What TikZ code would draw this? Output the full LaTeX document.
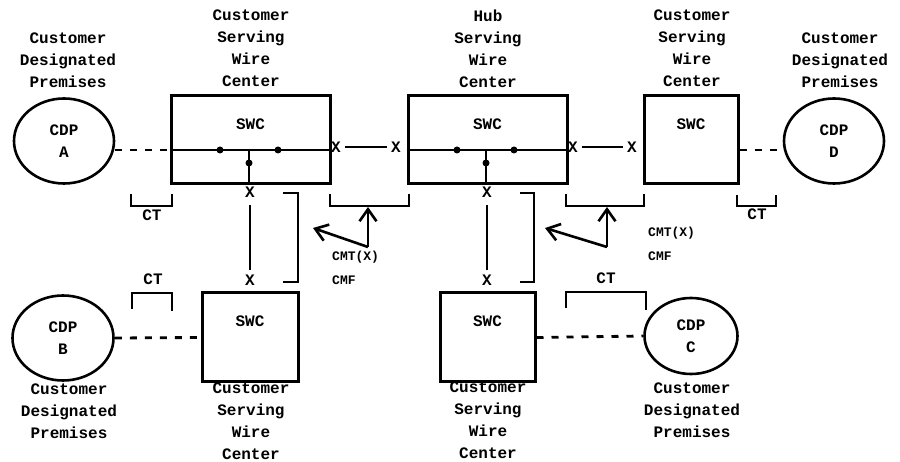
\documentclass[tikz,border=0pt]{standalone}
\usepackage{fontspec}
\setmonofont{Liberation Mono}
\usetikzlibrary{positioning, shapes.geometric, arrows.meta}
\newcommand\capfont{\ttfamily\bfseries\fontsize{16}{22}\selectfont}
\newcommand\notefont{\ttfamily\bfseries\fontsize{13}{23}\selectfont}

\begin{document}
\begin{tikzpicture}[x=1pt, y=-1pt,
  cdp/.style={draw, ellipse, line width=2.6pt, align=center, font=\capfont, inner sep=0pt},
  swc/.style={draw, line width=3pt, inner sep=0pt, label={[font=\capfont, anchor=center, yshift=-30pt]north:SWC}},
  lbl/.style={align=center, font=\capfont, inner sep=0pt},
  note/.style={anchor=west, font=\notefont, inner sep=0pt},
  xmark/.style={font=\capfont, inner sep=4pt},
  wire/.style={line width=2.4pt},
  dotline/.style={line width=2.8pt, dash pattern=on 7pt off 8pt},
  brk/.style={line width=2.6pt},
  dot/.style={circle, fill, inner sep=0pt, minimum size=7pt},
  arr/.style={-{Straight Barb[length=12pt, width=17pt]}, line width=2.6pt}
]
  \useasboundingbox (0,0) rectangle (900,462);

  \node[cdp, minimum width=100pt, minimum height=85pt] (cdpA) at (64, 141) {CDP \\ A};
  \node[cdp, minimum width=100pt, minimum height=85pt] (cdpD) at (834, 141) {CDP \\ D};
  \node[cdp, minimum width=101pt, minimum height=85pt] (cdpB) at (63, 338) {CDP \\ B};
  \node[cdp, minimum width=93pt, minimum height=76pt] (cdpC) at (691, 336) {CDP \\ C};

  \node[swc, minimum width=159pt, minimum height=88pt] (swcA) at (250.5, 140) {};
  \node[swc, minimum width=159pt, minimum height=88pt] (hub) at (487.5, 140) {};
  \node[swc, minimum width=94pt, minimum height=88pt] (swcD) at (691, 140) {};
  \node[swc, minimum width=96pt, minimum height=89pt] (swcB) at (250, 337.5) {};
  \node[swc, minimum width=95pt, minimum height=89pt] (swcC) at (487.5, 337.5) {};

  \node[lbl] (lblA) at (68, 60) {Customer \\ Designated \\ Premises};
  \node[lbl] (lblswcA) at (251, 48.5) {Customer \\ Serving \\ Wire \\ Center};
  \node[lbl] (lblhub) at (488, 48.5) {Hub \\ Serving \\ Wire \\ Center};
  \node[lbl] (lblswcD) at (692, 48.5) {Customer \\ Serving \\ Wire \\ Center};
  \node[lbl] (lblD) at (840, 60) {Customer \\ Designated \\ Premises};
  \node[lbl] (lblB) at (69, 411) {Customer \\ Designated \\ Premises};
  \node[lbl] (lblswcB) at (251, 421) {Customer \\ Serving \\ Wire \\ Center};
  \node[lbl] (lblswcC) at (488, 420) {Customer \\ Serving \\ Wire \\ Center};
  \node[lbl] (lblC) at (692, 410) {Customer \\ Designated \\ Premises};

  \coordinate (busA) at (249, 150);
  \coordinate (busH) at (486, 150);
  \draw[wire] (swcA.west |- busA) -- (swcA.east |- busA);
  \draw[wire] (busA) -- (swcA.south -| busA);
  \draw[wire] (hub.west |- busH) -- (hub.east |- busH);
  \draw[wire] (busH) -- (hub.south -| busH);
  \node[dot] (dA1) at (220, 150) {};
  \node[dot] (dA2) at (278, 150) {};
  \node[dot] (dA3) at (249, 163) {};
  \node[dot] (dH1) at (457, 150) {};
  \node[dot] (dH2) at (514, 150) {};
  \node[dot] (dH3) at (486, 163) {};

  \node[xmark] (xA) at (336, 147) {X};
  \node[xmark] (xH1) at (396, 147) {X};
  \node[xmark] (xH2) at (573, 147) {X};
  \node[xmark] (xD) at (632, 147) {X};
  \draw[wire] (xA) -- (xH1);
  \draw[wire] (xH2) -- (xD);

  \node[xmark] (xA2) at (250, 192) {X};
  \node[xmark] (xB) at (250, 280) {X};
  \node[xmark] (xH3) at (487, 192) {X};
  \node[xmark] (xC) at (487, 280) {X};
  \draw[wire, shorten <=4pt, shorten >=1pt] (xA2) -- (xB);
  \draw[wire, shorten <=4pt, shorten >=1pt] (xH3) -- (xC);

  \draw[dotline] (cdpA.east |- busA) -- (swcA.west |- busA);
  \draw[dotline] (swcD.east |- busH) -- (cdpD.west |- busH);
  \draw[dotline] (cdpB.east) -- (swcB.west);
  \draw[dotline] (swcC.east) -- (cdpC.west);

  \draw[brk] (283, 193) -- (298, 193) -- (298, 282) -- (283, 282);
  \draw[brk] (520, 193) -- (534, 193) -- (534, 282) -- (520, 282);
  \draw[brk] (131, 194) -- (131, 206) -- (172, 206) -- (172, 194);
  \draw[brk] (330, 194) -- (330, 206) -- (409, 206) -- (409, 194);
  \draw[brk] (566, 194) -- (566, 206) -- (644, 206) -- (644, 194);
  \draw[brk] (737, 195) -- (737, 206) -- (776, 206) -- (776, 195);
  \draw[brk] (132, 309) -- (132, 293) -- (172, 293) -- (172, 311);
  \draw[brk] (566, 308) -- (566, 292) -- (646, 292) -- (646, 310);

  \node[lbl] (ctA) at (152, 215) {CT};
  \node[lbl] (ctD) at (757, 214) {CT};
  \node[lbl] (ctB) at (153, 279) {CT};
  \node[lbl] (ctC) at (606, 278) {CT};

  \coordinate (cmtL) at (368, 247);
  \coordinate (brAH) at (368, 207);
  \coordinate (brAv) at (313, 228);
  \coordinate (cmtR) at (607, 247);
  \coordinate (brHD) at (607, 207);
  \coordinate (brHv) at (545, 228);
  \draw[arr] (cmtL) -- (brAH);
  \draw[arr] (cmtL) -- (brAv);
  \draw[arr] (cmtR) -- (brHD);
  \draw[arr] (cmtR) -- (brHv);

  \node[note] (cmtxL) at (332, 257) {CMT(X)};
  \node[note] (cmfL) at (332, 280) {CMF};
  \node[note] (cmtxR) at (648, 233) {CMT(X)};
  \node[note] (cmfR) at (648, 256) {CMF};
\end{tikzpicture}
\end{document}
